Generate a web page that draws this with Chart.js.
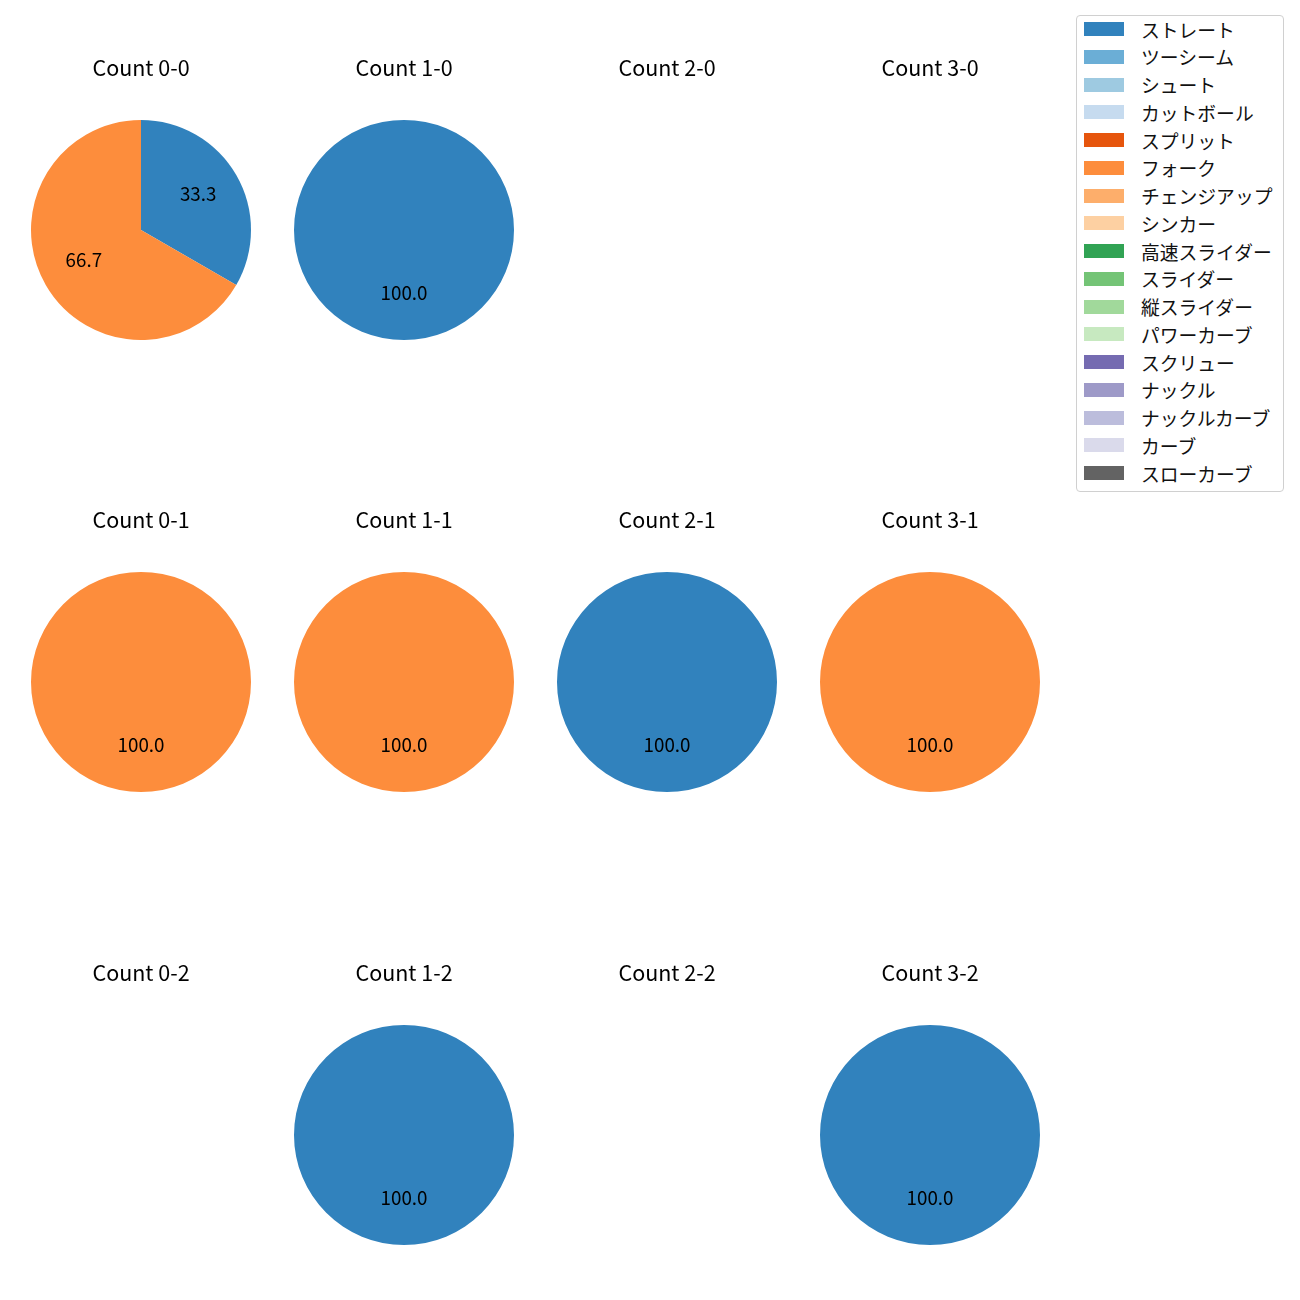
<!DOCTYPE html>
<html>
<head>
<meta charset="utf-8">
<script src="https://cdn.jsdelivr.net/npm/chart.js@4/dist/chart.umd.min.js"></script>
<style>
  html, body { margin: 0; padding: 0; background: #fff; }
  body { width: 1300px; height: 1300px; position: relative; overflow: hidden; font-family: "Noto Sans CJK JP", sans-serif; }
  .cell { position: absolute; width: 240px; height: 300px; }
  #legend { position: absolute; left: 1076px; top: 15px; width: 208px; height: 477px; border: 1px solid #d0d0d0; border-radius: 4px; box-sizing: border-box; background: #fff; }
  .item { position: absolute; left: 7px; height: 24px; display: flex; align-items: center; font-size: 18.8px; color: #111; white-space: nowrap; }
  .sw { width: 40px; height: 14px; margin-right: 17px; flex: none; }
</style>
</head>
<body>
<div id="legend"></div>
<script>
const pitchTypes = ["ストレート","ツーシーム","シュート","カットボール","スプリット","フォーク","チェンジアップ","シンカー","高速スライダー","スライダー","縦スライダー","パワーカーブ","スクリュー","ナックル","ナックルカーブ","カーブ","スローカーブ"];
const pitchColors = ["#3182bd","#6baed6","#9ecae1","#c6dbef","#e6550d","#fd8d3c","#fdae6b","#fdd0a2","#31a354","#74c476","#a1d99b","#c7e9c0","#756bb1","#9e9ac8","#bcbddc","#dadaeb","#636363"];
const countLabels = ["Count 0-0","Count 1-0","Count 2-0","Count 3-0","Count 0-1","Count 1-1","Count 2-1","Count 3-1","Count 0-2","Count 1-2","Count 2-2","Count 3-2"];
const straightCounts = [1,1,0,0,0,0,1,0,0,1,0,1];
const forkCounts     = [2,0,0,0,1,1,0,1,0,0,0,0];

// legend
const legend = document.getElementById('legend');
pitchTypes.forEach((name, i) => {
  const it = document.createElement('div');
  it.className = 'item';
  it.style.top = (1 + i * 27.75) + 'px';
  it.innerHTML = '<span class="sw" style="background:' + pitchColors[i] + '"></span><span>' + name + '</span>';
  legend.appendChild(it);
});

const pctLabels = {
  id: 'pctLabels',
  afterDatasetsDraw(chart) {
    const ctx = chart.ctx;
    const meta = chart.getDatasetMeta(0);
    const data = chart.data.datasets[0].data;
    const total = data.reduce((a, b) => a + b, 0);
    if (!total) return;
    const size = 18.8;
    ctx.save();
    ctx.font = size + 'px "Noto Sans CJK JP"';
    ctx.fillStyle = '#000';
    ctx.textAlign = 'center';
    ctx.textBaseline = 'alphabetic';
    meta.data.forEach((arc, i) => {
      if (!data[i]) return;
      const p = arc.getProps(['x','y','startAngle','endAngle','outerRadius'], true);
      const mid = (p.startAngle + p.endAngle) / 2;
      const r = p.outerRadius * 0.6;
      const tx = p.x + Math.cos(mid) * r;
      const ty = p.y + Math.sin(mid) * r - 2.5 + 0.365 * size;
      ctx.fillText((data[i] / total * 100).toFixed(1), tx, ty);
    });
    ctx.restore();
  }
};

const colCenters = [141, 404, 667, 930];
const rowTops = [40, 492, 945];

countLabels.forEach((label, k) => {
  const col = k % 4, row = Math.floor(k / 4);
  const div = document.createElement('div');
  div.className = 'cell';
  div.style.left = (colCenters[col] - 120) + 'px';
  div.style.top = rowTops[row] + 'px';
  const cv = document.createElement('canvas');
  cv.width = 240; cv.height = 300;
  cv.style.width = '240px'; cv.style.height = '300px';
  div.appendChild(cv);
  document.body.appendChild(div);
  const values = pitchTypes.map((_, i) => i === 0 ? straightCounts[k] : (i === 5 ? forkCounts[k] : 0));
  new Chart(cv, {
    type: 'pie',
    data: { labels: pitchTypes, datasets: [{ data: values, backgroundColor: pitchColors, borderWidth: 0 }] },
    options: {
      responsive: false,
      animation: false,
      events: [],
      layout: { padding: 0 },
      plugins: {
        legend: { display: false },
        tooltip: { enabled: false },
        title: {
          display: true, text: label, color: '#000',
          font: { family: '"Noto Sans CJK JP"', size: 21.5, weight: 'normal', lineHeight: 1.2 },
          padding: { top: 15.1, bottom: 39.1 }
        }
      }
    },
    plugins: [pctLabels]
  });
});
</script>
</body>
</html>
